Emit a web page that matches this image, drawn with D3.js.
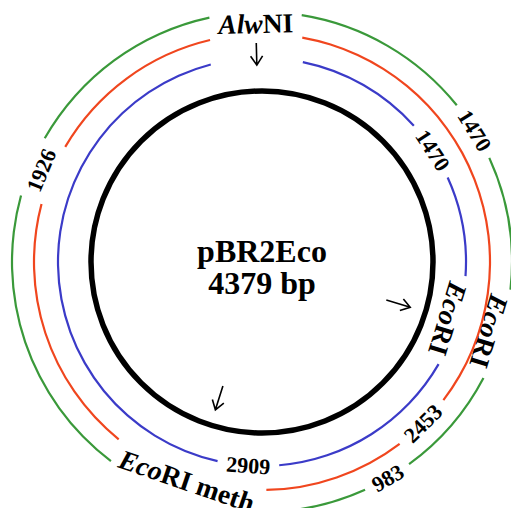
<!DOCTYPE html>
<html>
<head>
<meta charset="utf-8">
<script src="https://cdn.jsdelivr.net/npm/d3@7"></script>
<style>
  body { margin: 0; background: #fff; }
  text { font-family: "Liberation Serif", "Times New Roman", serif; font-weight: bold; }
</style>
</head>
<body>
<div id="map"></div>
<script>
var plasmidName = "pBR2Eco";
var plasmidSize = 4379;

// restriction sites (bp) and which way the little arrow points
var siteNames = ["AlwNI", "EcoRI", "EcoRI meth"];
var siteBp = [0, 1470, 2453];
var arrowDirs = ["in", "out", "out"];

// the three digests, inner ring to outer ring
var ringNames = ["AlwNI + EcoRI", "AlwNI + EcoRI meth", "AlwNI + EcoRI + EcoRI meth"];

// labels written on the rings: text, where (bp), which rings they cut
var labelTexts = ["AlwNI", "1470", "EcoRI", "2909", "2453", "EcoRI meth", "1926", "1470", "EcoRI", "983"];
var labelBp    = [0, 790, 1470, 2305, 1775, 2470, 3590, 810, 1470, 1935];
var labelRings = [[0, 1, 2], [0], [0], [0], [1], [1, 2], [1, 2], [2], [2], [2]];

var width = 511, height = 508;
var cx = 262, cy = 262;
var ringR = [204, 228, 250];
var ringColors = ["#3b3bc8", "#f0461e", "#3a993a"];
var bbR = 171;

var svg = d3.select("#map").append("svg")
    .attr("width", width)
    .attr("height", height);

var g = svg.append("g").attr("transform", "translate(" + cx + "," + cy + ")");

// drawn angle (deg) for a bp position, as laid out on the map
var angle = d3.scaleLinear()
    .domain([siteBp[0], siteBp[1], siteBp[2], plasmidSize])
    .range([-1.5, 107, 197.5, 358.5]);

// backbone
g.append("circle")
    .attr("r", bbR)
    .attr("fill", "none")
    .attr("stroke", "black")
    .attr("stroke-width", 5.5);

// center title
g.append("text")
    .attr("text-anchor", "middle")
    .attr("y", 0)
    .style("font-size", "32px")
    .text(plasmidName);
g.append("text")
    .attr("text-anchor", "middle")
    .attr("y", 32)
    .style("font-size", "32px")
    .text(plasmidSize + " bp");

// ring labels
var labels = labelTexts.map(function(t, i) {
    var rings = labelRings[i];
    var isName = isNaN(+t);
    var r;
    if (rings.length > 1) r = (ringR[rings[rings.length - 1]] + ringR[rings[rings.length - 2]]) / 2;
    else r = ringR[rings[0]] - (isName ? (rings[0] == 2 ? 12 : 9) : 0);
    if (rings.length == 2 && isName) r -= 8; // bottom name pulled in off the page edge
    return {text: t, a: angle(labelBp[i]), rings: rings, r: r, isName: isName};
});

labels.forEach(function(d) {
    var p = d3.pointRadial(d.a * Math.PI / 180, d.r);
    var rot = (d.a > 120 && d.a < 240) ? d.a - 180 : d.a;
    var t = g.append("text")
        .attr("text-anchor", "middle")
        .attr("dominant-baseline", "central")
        .attr("transform", "translate(" + p[0] + "," + p[1] + ") rotate(" + rot + ")")
        .style("font-size", d.isName ? "27.5px" : "22px");
    if (d.isName) {
        // genus part of the enzyme name in italics
        t.append("tspan").style("font-style", "italic").text(d.text.slice(0, 3));
        t.append("tspan").text(d.text.slice(3));
    } else {
        t.text(d.text);
    }
    d.w = t.node().getComputedTextLength();
});

// rings with gaps where the labels sit
var pad = 9;
var arc = d3.arc();
ringR.forEach(function(r, i) {
    var gaps = labels.filter(function(d) { return d.rings.indexOf(i) >= 0; })
        .map(function(d) {
            var a = d.a * Math.PI / 180, h = (d.w / 2 + pad) / r;
            return [a - h, a + h];
        })
        .sort(function(a, b) { return a[0] - b[0]; });
    gaps.forEach(function(gp, k) {
        var next = gaps[(k + 1) % gaps.length];
        var end = next[0] + (k + 1 === gaps.length ? 2 * Math.PI : 0);
        g.append("path")
            .attr("d", arc({innerRadius: r - 1.1, outerRadius: r + 1.1, startAngle: gp[1], endAngle: end}))
            .attr("fill", ringColors[i]);
    });
});

// site arrows
siteBp.forEach(function(bp, i) {
    var a = angle(bp) * Math.PI / 180;
    var from, to;
    if (arrowDirs[i] == "in") { from = 219; to = 197; }
    else { from = 130; to = 155; }
    var s = d3.pointRadial(a, from), e = d3.pointRadial(a, to);
    var dx = e[0] - s[0], dy = e[1] - s[1], len = Math.sqrt(dx * dx + dy * dy);
    var ux = dx / len, uy = dy / len;
    var hl = 9, hw = 6;
    var b1 = [e[0] - ux * hl - uy * hw, e[1] - uy * hl + ux * hw];
    var b2 = [e[0] - ux * hl + uy * hw, e[1] - uy * hl - ux * hw];
    g.append("path")
        .attr("d", "M" + s + "L" + e + "M" + b1 + "L" + e + "L" + b2)
        .attr("fill", "none")
        .attr("stroke", "black")
        .attr("stroke-width", 1.6);
});
</script>
</body>
</html>
